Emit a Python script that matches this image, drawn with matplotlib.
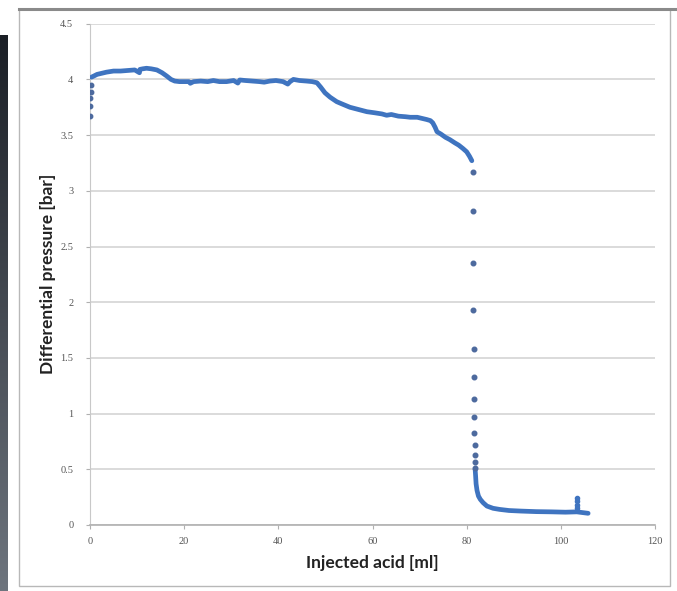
import numpy as np
import matplotlib
matplotlib.use("Agg")
import matplotlib.pyplot as plt
from matplotlib.patches import Rectangle
from matplotlib.ticker import FormatStrFormatter

# ---------------- data ----------------
start_x = [0.1, 0.1, 0.1, 0.15, 0.2]
start_y = [3.67, 3.76, 3.83, 3.89, 3.95]

plateau_x = [0.3, 0.8, 1.5, 2.5, 3.5, 5, 6.5, 8, 9.5, 10.5, 10.6, 11.2, 12, 13, 14.2,
             15.3, 16.3, 17.2, 18, 19, 20, 21, 21.3, 22, 23.5, 25, 26.2, 27.5, 29,
             30.5, 31.4, 31.8, 33, 34.5, 36, 37, 38.2, 39.5, 41, 42, 42.5, 43.2, 44.5,
             46, 47.2, 48.2, 49, 49.9, 51, 52.4, 53.5, 55.2, 57, 58.8, 60.5, 62, 63,
             64, 65.5, 67, 68, 69.5, 70.5, 71.5, 72.3, 72.8, 73.3, 73.7, 74.5, 75.5,
             76.4, 77.5, 78.3, 79.2, 80, 80.6, 81.1]
plateau_y = [4.02, 4.03, 4.045, 4.055, 4.065, 4.075, 4.075, 4.08, 4.085, 4.06, 4.09,
             4.095, 4.10, 4.095, 4.085, 4.06, 4.03, 4.0, 3.985, 3.98, 3.98, 3.98, 3.965,
             3.98, 3.985, 3.98, 3.99, 3.98, 3.98, 3.99, 3.967, 3.995, 3.99, 3.985, 3.98,
             3.975, 3.985, 3.99, 3.98, 3.958, 3.98, 4.0, 3.99, 3.985, 3.98, 3.97, 3.93,
             3.88, 3.84, 3.80, 3.78, 3.75, 3.73, 3.71, 3.70, 3.69, 3.678, 3.685, 3.67,
             3.665, 3.66, 3.66, 3.65, 3.64, 3.63, 3.61, 3.57, 3.53, 3.51, 3.48, 3.46,
             3.43, 3.41, 3.38, 3.35, 3.31, 3.27]

drop_x = [81.3, 81.3, 81.4, 81.4, 81.5, 81.5, 81.6, 81.6, 81.6, 81.7, 81.7, 81.7, 81.8]
drop_y = [3.17, 2.82, 2.355, 1.93, 1.58, 1.33, 1.13, 0.97, 0.83, 0.72, 0.63, 0.57, 0.51]

tail_x = [81.8, 81.9, 82.0, 82.2, 82.5, 82.9, 83.5, 84.3, 85.6, 87, 89, 91.5, 94.8,
          98, 101, 103.4, 104.5, 105.8]
tail_y = [0.5, 0.44, 0.37, 0.31, 0.26, 0.23, 0.20, 0.17, 0.15, 0.14, 0.13, 0.125,
          0.12, 0.118, 0.115, 0.118, 0.112, 0.105]

spike_x = [103.4, 103.4, 103.4, 103.5]
spike_y = [0.245, 0.215, 0.18, 0.15]

x_ticks = [0, 20, 40, 60, 80, 100, 120]
y_ticks = [0, 0.5, 1, 1.5, 2, 2.5, 3, 3.5, 4, 4.5]
x_label = "Injected acid [ml]"
y_label = "Differential pressure [bar]"

# ---------------- figure ----------------
W, H = 677, 591
fig = plt.figure(figsize=(W / 100, H / 100), dpi=100)
fig.patch.set_facecolor("white")

# dark strip at the left edge of the scanned page
strip = fig.add_axes([0, 0, 8 / W, (H - 35) / H])
grad = np.linspace(0, 1, 256).reshape(-1, 1)
strip.imshow(grad, aspect="auto", cmap=matplotlib.colors.LinearSegmentedColormap.from_list(
    "g", ["#1b1f26", "#6e757e"]), origin="upper")
strip.set_axis_off()

# chart frame
fig.patches.append(Rectangle((19 / W, 1 - 586 / H), (670 - 19) / W, (586 - 9) / H,
                             transform=fig.transFigure, fill=False,
                             edgecolor="#b8b8b8", linewidth=1.0))
fig.lines.append(matplotlib.lines.Line2D([19 / W, 1], [1 - 9 / H, 1 - 9 / H],
                                         transform=fig.transFigure,
                                         color="#8a8a8a", linewidth=2.2))

ax = fig.add_axes([90 / W, 1 - 525 / H, (655 - 90) / W, (525 - 23.7) / H])

line_col = "#3f74c0"
dot_col = "#4d6a9e"

ax.plot(plateau_x, plateau_y, color=line_col, lw=3.4, solid_capstyle="round", zorder=3)
ax.plot(tail_x, tail_y, color=line_col, lw=3.4, solid_capstyle="round", zorder=3)
ax.plot(start_x, start_y, "o", color=dot_col, ms=3.2, zorder=4)
ax.plot(drop_x, drop_y, "o", color=dot_col, ms=3.3, zorder=4)
ax.plot(spike_x, spike_y, "o", color=line_col, ms=3.0, zorder=4)

ax.set_xlim(0, 120)
ax.set_ylim(0, 4.5)
ax.set_xticks(x_ticks)
ax.set_yticks(y_ticks)
ax.yaxis.set_major_formatter(FormatStrFormatter("%g"))
ax.xaxis.set_major_formatter(FormatStrFormatter("%g"))

ax.grid(axis="y", color="#d4d4d4", linewidth=1.2)
ax.set_axisbelow(True)
for s in ["top", "right"]:
    ax.spines[s].set_visible(False)
ax.spines["left"].set_color("#c8c8c8")
ax.spines["bottom"].set_color("#b0b0b0")
ax.spines["bottom"].set_linewidth(1.2)

ax.tick_params(axis="both", labelsize=7.5, labelcolor="#555555", color="#b0b0b0",
               length=3, width=0.8, direction="out")
ax.tick_params(axis="y", pad=9)
ax.tick_params(axis="x", pad=6)
for lab in ax.get_xticklabels() + ax.get_yticklabels():
    lab.set_family("Liberation Serif")

ax.set_xlabel(x_label, fontsize=12.5, fontweight="bold", family="Lato",
              color="#222222", labelpad=6)
ax.set_ylabel(y_label, fontsize=12.5, fontweight="bold", family="Lato",
              color="#222222", labelpad=3)

fig.savefig("out.png", dpi=100, facecolor="white")
